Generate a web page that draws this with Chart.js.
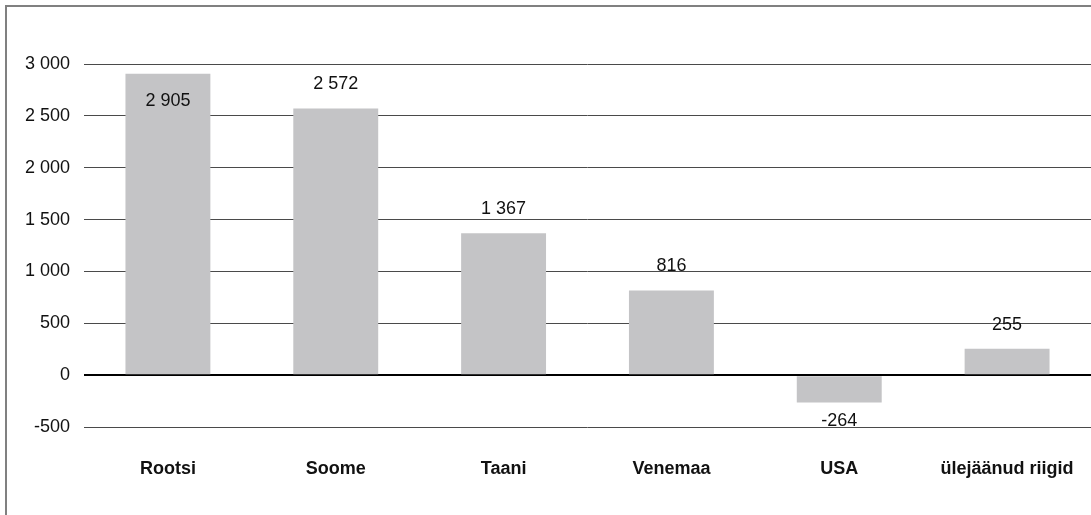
<!DOCTYPE html>
<html lang="et">
<head>
  <meta charset="UTF-8">
  <title>Riigid</title>
  <style>
    html, body { margin: 0; padding: 0; background: #fff; }
    #wrap { position: relative; width: 1091px; height: 515px; }
  </style>
  <script src="https://cdn.jsdelivr.net/npm/chart.js"></script>
</head>
<body>
  <div id="wrap"><canvas id="chart"></canvas></div>
  <script>
    // andmed
    const riigid = ['Rootsi', 'Soome', 'Taani', 'Venemaa', 'USA', 'ülejäänud riigid'];
    const vaartused = [2905, 2572, 1367, 816, -264, 255];
    const yTicks = [-500, 0, 500, 1000, 1500, 2000, 2500, 3000];

    const FONT = '"Liberation Sans", Arial, sans-serif';

    // tuhandete eraldaja tühikuga
    function fmt(v) {
      const s = Math.abs(v).toString().replace(/\B(?=(\d{3})+(?!\d))/g, ' ');
      return (v < 0 ? '-' : '') + s;
    }

    // raam + väärtuste sildid
    const labelPlugin = {
      id: 'labels',
      beforeDraw(chart) {
        const ctx = chart.ctx;
        ctx.save();
        ctx.strokeStyle = '#808080';
        ctx.lineWidth = 2;
        ctx.beginPath();
        ctx.moveTo(6, chart.height);
        ctx.lineTo(6, 6);
        ctx.lineTo(chart.width, 6);
        ctx.stroke();
        ctx.restore();
      },
      afterDatasetsDraw(chart) {
        const ctx = chart.ctx;
        const meta = chart.getDatasetMeta(0);
        ctx.save();
        ctx.font = '18px ' + FONT;
        ctx.fillStyle = '#111';
        ctx.textAlign = 'center';
        ctx.textBaseline = 'middle';
        meta.data.forEach((bar, i) => {
          const v = vaartused[i];
          let y;
          if (v >= 0) {
            y = bar.y - 24;
            if (y - 9 < chart.chartArea.top) y = bar.y + 27; // ei mahu, siis tulba sisse
          } else {
            y = bar.y + 19;
          }
          ctx.fillText(fmt(v), bar.x, y);
        });
        ctx.restore();
      }
    };

    new Chart(document.getElementById('chart'), {
      type: 'bar',
      data: {
        labels: riigid,
        datasets: [{
          data: vaartused,
          backgroundColor: '#c4c4c6',
          borderWidth: 0,
          barPercentage: 1,
          categoryPercentage: 0.506
        }]
      },
      options: {
        responsive: true,
        maintainAspectRatio: false,
        animation: false,
        layout: { padding: { top: 64, left: 0, right: 0, bottom: 0 } },
        plugins: {
          legend: { display: false },
          tooltip: { enabled: false }
        },
        scales: {
          x: {
            grid: { display: false },
            border: { display: false },
            ticks: {
              color: '#111',
              padding: 23,
              maxRotation: 0,
              autoSkip: false,
              font: { family: FONT, size: 18, weight: 'bold' }
            },
            afterFit(scale) {
              scale.height = 88;
              scale.paddingLeft = 0;
              scale.paddingRight = 0;
            }
          },
          y: {
            min: -500,
            max: 3000,
            afterBuildTicks(scale) { scale.ticks = yTicks.map(v => ({ value: v })); },
            grid: {
              drawTicks: false,
              color: ctx => ctx.tick && ctx.tick.value === 0 ? '#000' : '#4a4a4a',
              lineWidth: ctx => ctx.tick && ctx.tick.value === 0 ? 2 : 1
            },
            border: { display: false },
            ticks: {
              color: '#111',
              padding: 14,
              font: { family: FONT, size: 18 },
              callback: v => fmt(v)
            },
            afterFit(scale) {
              scale.width = 84;
              scale.paddingTop = 0;
              scale.paddingBottom = 0;
            }
          }
        }
      },
      plugins: [labelPlugin]
    });
  </script>
</body>
</html>
